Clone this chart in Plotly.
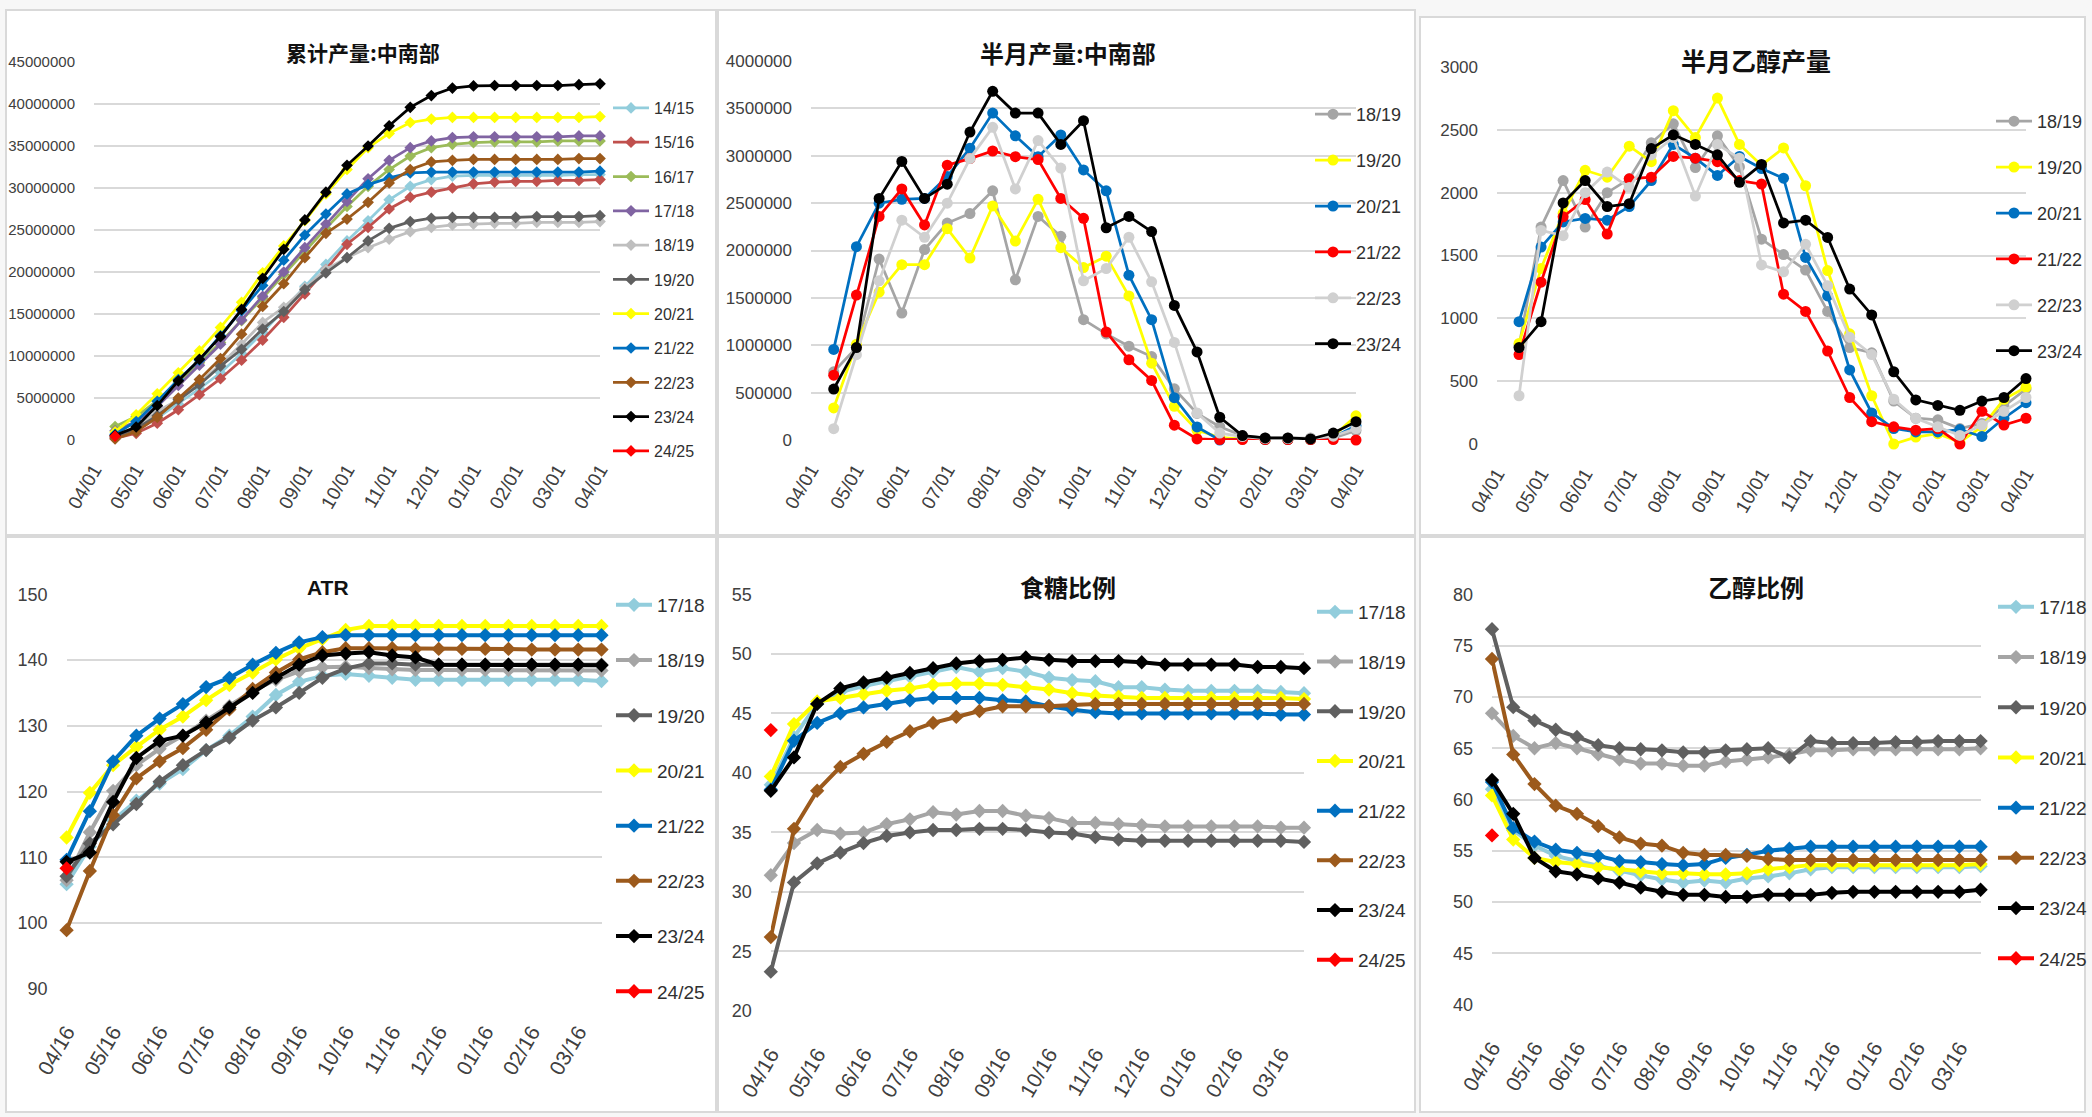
import plotly.graph_objects as go

W, H = 2092, 1117

# ---------------- categories / tick labels ----------------
half_months = ["04/16", "05/01", "05/16", "06/01", "06/16", "07/01", "07/16", "08/01",
               "08/16", "09/01", "09/16", "10/01", "10/16", "11/01", "11/16", "12/01",
               "12/16", "01/01", "01/16", "02/01", "02/16", "03/01", "03/16", "04/01"]
top_tick_labels = ["04/01", "05/01", "06/01", "07/01", "08/01", "09/01", "10/01",
                   "11/01", "12/01", "01/01", "02/01", "03/01", "04/01"]
bottom_tick_labels = ["04/16", "05/16", "06/16", "07/16", "08/16", "09/16",
                      "10/16", "11/16", "12/16", "01/16", "02/16", "03/16"]

# ---------------- 累计产量:中南部 (tons) ----------------
cum_1415 = [0.4e6, 1.2e6, 2.6e6, 4.3e6, 6.1e6, 8.0e6, 10.3e6, 12.8e6, 15.5e6, 18.3e6, 20.9e6, 23.7e6,
            26.1e6, 28.6e6, 30.2e6, 31.0e6, 31.4e6, 31.5e6, 31.5e6, 31.5e6, 31.5e6, 31.5e6, 31.6e6, 31.6e6]
cum_1516 = [0.2e6, 0.8e6, 2.0e6, 3.6e6, 5.4e6, 7.3e6, 9.5e6, 11.9e6, 14.6e6, 17.4e6, 20.3e6, 23.3e6,
            25.3e6, 27.5e6, 28.9e6, 29.5e6, 30.0e6, 30.5e6, 30.7e6, 30.8e6, 30.8e6, 30.9e6, 30.9e6, 31.0e6]
cum_1617 = [1.6e6, 2.8e6, 4.7e6, 6.9e6, 9.2e6, 11.6e6, 14.2e6, 16.9e6, 19.7e6, 22.5e6, 25.2e6, 27.8e6,
            30.2e6, 32.2e6, 33.8e6, 34.8e6, 35.2e6, 35.4e6, 35.5e6, 35.5e6, 35.5e6, 35.6e6, 35.6e6, 35.6e6]
cum_1718 = [1.1e6, 2.2e6, 4.0e6, 6.5e6, 8.9e6, 11.4e6, 14.3e6, 17.1e6, 20.0e6, 22.9e6, 25.7e6, 28.4e6,
            31.1e6, 33.3e6, 34.8e6, 35.6e6, 36.0e6, 36.1e6, 36.1e6, 36.1e6, 36.1e6, 36.1e6, 36.2e6, 36.2e6]
cum_1819 = [0.5e6, 1.5e6, 3.4e6, 4.8e6, 6.8e6, 9.0e6, 11.4e6, 14.0e6, 15.8e6, 18.1e6, 20.3e6, 21.7e6,
            22.9e6, 23.9e6, 24.8e6, 25.3e6, 25.6e6, 25.7e6, 25.8e6, 25.8e6, 25.9e6, 25.9e6, 25.9e6, 26.0e6]
cum_1920 = [0.34e6, 1.35e6, 2.9e6, 4.8e6, 6.6e6, 8.8e6, 10.8e6, 13.2e6, 15.3e6, 17.9e6, 19.9e6, 21.7e6,
            23.7e6, 25.2e6, 26.0e6, 26.4e6, 26.5e6, 26.5e6, 26.5e6, 26.5e6, 26.6e6, 26.6e6, 26.6e6, 26.7e6]
cum_2021 = [0.96e6, 3.0e6, 5.5e6, 8.0e6, 10.6e6, 13.4e6, 16.4e6, 19.9e6, 23.1e6, 26.1e6, 29.3e6, 32.2e6,
            34.8e6, 36.5e6, 37.8e6, 38.2e6, 38.4e6, 38.4e6, 38.4e6, 38.4e6, 38.4e6, 38.4e6, 38.4e6, 38.5e6]
cum_2122 = [0.68e6, 2.2e6, 4.6e6, 7.2e6, 9.5e6, 12.4e6, 15.4e6, 18.4e6, 21.4e6, 24.4e6, 26.9e6, 29.3e6,
            30.4e6, 31.2e6, 31.8e6, 31.9e6, 31.9e6, 31.9e6, 31.9e6, 31.9e6, 31.9e6, 31.9e6, 31.9e6, 32.0e6]
cum_2223 = [0.12e6, 1.0e6, 2.7e6, 5.0e6, 7.2e6, 9.7e6, 12.6e6, 15.9e6, 18.6e6, 21.7e6, 24.6e6, 26.3e6,
            28.3e6, 30.6e6, 32.2e6, 33.1e6, 33.3e6, 33.4e6, 33.4e6, 33.4e6, 33.4e6, 33.4e6, 33.5e6, 33.5e6]
cum_2324 = [0.55e6, 1.55e6, 4.1e6, 7.05e6, 9.6e6, 12.3e6, 15.55e6, 19.25e6, 22.7e6, 26.2e6, 29.5e6, 32.7e6,
            35.0e6, 37.4e6, 39.6e6, 41.0e6, 41.9e6, 42.15e6, 42.2e6, 42.2e6, 42.2e6, 42.2e6, 42.3e6, 42.4e6]
cum_2425 = [0.45e6]

# ---------------- 半月产量:中南部 (tons) ----------------
half_1819 = [720e3, 975e3, 1910e3, 1340e3, 2010e3, 2290e3, 2390e3, 2630e3, 1690e3, 2360e3, 2150e3, 1270e3,
             1120e3, 990e3, 880e3, 540e3, 280e3, 140e3, 47e3, 20e3, 20e3, 20e3, 20e3, 100e3]
half_1920 = [338e3, 1010e3, 1560e3, 1850e3, 1850e3, 2230e3, 1920e3, 2470e3, 2100e3, 2540e3, 2030e3, 1820e3,
             1940e3, 1520e3, 811e3, 356e3, 102e3, 29e3, 10e3, 5e3, 5e3, 5e3, 40e3, 255e3]
half_2021 = [956e3, 2040e3, 2500e3, 2540e3, 2550e3, 2780e3, 3080e3, 3450e3, 3210e3, 2990e3, 3220e3, 2850e3,
             2630e3, 1740e3, 1270e3, 447e3, 138e3, 0, 11e3, 5e3, 5e3, 5e3, 30e3, 150e3]
half_2122 = [684e3, 1530e3, 2360e3, 2650e3, 2270e3, 2900e3, 2970e3, 3050e3, 2990e3, 2960e3, 2550e3, 2340e3,
             1140e3, 847e3, 629e3, 156e3, 11e3, 5e3, 5e3, 5e3, 5e3, 5e3, 5e3, 0]
half_2223 = [120e3, 900e3, 1680e3, 2320e3, 2140e3, 2500e3, 2970e3, 3300e3, 2650e3, 3160e3, 2870e3, 1680e3,
             1810e3, 2140e3, 1670e3, 1030e3, 284e3, 73e3, 36e3, 15e3, 15e3, 15e3, 40e3, 120e3]
half_2324 = [538e3, 975e3, 2550e3, 2940e3, 2550e3, 2700e3, 3250e3, 3680e3, 3450e3, 3450e3, 3120e3, 3370e3,
             2240e3, 2360e3, 2200e3, 1420e3, 930e3, 240e3, 47e3, 22e3, 22e3, 11e3, 73e3, 193e3]

# ---------------- 半月乙醇产量 ----------------
eth_1819 = [780, 1726, 2096, 1726, 2000, 2110, 2397, 2548, 2200, 2452, 2205, 1630,
            1507, 1384, 1055, 767, 726, 342, 205, 192, 123, 164, 301, 438]
eth_1920 = [800, 1397, 1836, 2178, 2123, 2370, 2247, 2652, 2438, 2753, 2384, 2219,
            2356, 2055, 1380, 877, 384, 0, 55, 82, 14, 137, 356, 452]
eth_2021 = [973, 1567, 1767, 1795, 1781, 1890, 2096, 2384, 2274, 2137, 2288, 2192,
            2115, 1485, 1178, 589, 247, 123, 96, 96, 115, 60, 205, 329]
eth_2122 = [712, 1288, 1808, 1945, 1671, 2110, 2123, 2288, 2274, 2247, 2096, 2068,
            1192, 1055, 740, 370, 178, 137, 110, 123, 0, 260, 151, 205]
eth_2223 = [384, 1699, 1658, 2000, 2164, 2041, 2300, 2438, 1973, 2384, 2274, 1425,
            1370, 1589, 1260, 850, 712, 356, 205, 137, 68, 151, 260, 370]
eth_2324 = [767, 973, 1918, 2096, 1890, 1912, 2351, 2460, 2384, 2301, 2082, 2225,
            1759, 1781, 1644, 1233, 1027, 575, 351, 307, 268, 342, 370, 521]

# ---------------- ATR ----------------
atr_1718 = [105.9, 111.6, 115.6, 118.6, 121.2, 123.4, 126.3, 128.5, 131.4, 134.7, 136.7, 137.6,
            137.9, 137.6, 137.3, 137.0, 137.0, 137.0, 137.0, 137.0, 137.0, 137.0, 137.0, 136.8]
atr_1819 = [106.5, 113.8, 120.1, 124.0, 126.5, 128.5, 130.8, 133.0, 135.3, 137.0, 138.3, 138.9,
            139.0, 138.8, 138.6, 138.5, 138.5, 138.5, 138.5, 138.5, 138.5, 138.5, 138.5, 138.4]
atr_1920 = [107.1, 112.1, 115.0, 118.1, 121.5, 124.0, 126.3, 128.2, 130.8, 132.8, 135.0, 137.3,
            138.7, 139.5, 139.5, 139.3, 139.3, 139.3, 139.3, 139.3, 139.3, 139.3, 139.3, 139.3]
atr_2021 = [113.0, 119.8, 124.0, 126.8, 129.4, 131.4, 133.9, 136.2, 138.1, 140.1, 141.8, 143.2,
            144.6, 145.2, 145.2, 145.2, 145.2, 145.2, 145.2, 145.2, 145.2, 145.2, 145.2, 145.2]
atr_2122 = [109.6, 117.0, 124.6, 128.5, 131.1, 133.3, 135.9, 137.3, 139.3, 141.1, 142.7, 143.5,
            143.8, 143.8, 143.8, 143.8, 143.8, 143.8, 143.8, 143.8, 143.8, 143.8, 143.8, 143.8]
atr_2223 = [98.9, 107.9, 116.4, 122.0, 124.6, 126.6, 129.4, 132.5, 135.6, 138.1, 140.1, 141.2,
            141.8, 141.8, 141.8, 141.7, 141.7, 141.7, 141.7, 141.7, 141.6, 141.6, 141.6, 141.6]
atr_2324 = [109.3, 110.7, 118.4, 125.1, 127.7, 128.5, 130.5, 132.8, 135.0, 137.3, 139.3, 140.7,
            141.0, 141.2, 140.7, 140.4, 139.3, 139.3, 139.3, 139.3, 139.3, 139.3, 139.3, 139.2]
atr_2425 = [108.3]

# ---------------- 食糖比例 ----------------
sug_1718 = [39.0, 43.0, 45.8, 46.8, 47.3, 47.7, 48.1, 48.5, 48.9, 48.5, 48.8, 48.5,
            48.0, 47.8, 47.7, 47.2, 47.2, 47.0, 46.9, 46.9, 46.9, 46.9, 46.8, 46.7]
sug_1819 = [31.4, 34.1, 35.2, 34.9, 35.0, 35.7, 36.1, 36.7, 36.5, 36.8, 36.8, 36.4,
            36.2, 35.8, 35.8, 35.7, 35.6, 35.5, 35.5, 35.5, 35.5, 35.5, 35.4, 35.4]
sug_1920 = [23.3, 30.8, 32.4, 33.3, 34.1, 34.7, 35.0, 35.2, 35.2, 35.3, 35.3, 35.2,
            35.0, 34.9, 34.6, 34.4, 34.3, 34.3, 34.3, 34.3, 34.3, 34.3, 34.3, 34.2]
sug_2021 = [39.7, 44.1, 46.0, 46.3, 46.6, 46.9, 47.1, 47.4, 47.5, 47.5, 47.4, 47.2,
            47.0, 46.7, 46.5, 46.4, 46.3, 46.3, 46.3, 46.3, 46.3, 46.3, 46.3, 46.2]
sug_2122 = [38.6, 42.7, 44.2, 45.0, 45.5, 45.8, 46.1, 46.3, 46.3, 46.3, 46.1, 46.0,
            45.6, 45.3, 45.1, 45.0, 45.0, 45.0, 45.0, 45.0, 45.0, 45.0, 44.9, 44.9]
sug_2223 = [26.2, 35.3, 38.5, 40.5, 41.6, 42.6, 43.5, 44.2, 44.7, 45.2, 45.6, 45.6,
            45.6, 45.7, 45.8, 45.8, 45.8, 45.8, 45.8, 45.8, 45.8, 45.8, 45.8, 45.8]
sug_2324 = [38.5, 41.3, 45.8, 47.1, 47.6, 48.0, 48.4, 48.8, 49.2, 49.4, 49.5, 49.7,
            49.5, 49.4, 49.4, 49.4, 49.3, 49.1, 49.1, 49.1, 49.1, 48.9, 48.9, 48.8]
sug_2425 = [43.6]

# ---------------- 乙醇比例 ----------------
etr_1718 = [61.0, 57.0, 55.5, 54.5, 54.0, 53.5, 53.0, 52.6, 52.2, 51.9, 52.1, 51.9,
            52.3, 52.5, 52.8, 53.2, 53.4, 53.4, 53.4, 53.4, 53.4, 53.4, 53.4, 53.5]
etr_1819 = [68.4, 66.2, 65.0, 65.5, 65.0, 64.4, 63.9, 63.5, 63.5, 63.3, 63.3, 63.7,
            63.9, 64.1, 64.4, 64.8, 64.8, 64.9, 64.9, 64.9, 64.9, 64.9, 64.9, 65.0]
etr_1920 = [76.6, 69.0, 67.7, 66.8, 66.1, 65.3, 65.0, 64.9, 64.8, 64.6, 64.6, 64.8,
            64.9, 65.0, 64.1, 65.7, 65.5, 65.5, 65.5, 65.6, 65.6, 65.7, 65.7, 65.7]
etr_2021 = [60.4, 56.1, 54.3, 53.9, 53.7, 53.4, 53.2, 53.0, 52.8, 52.8, 52.7, 52.7,
            52.8, 53.2, 53.4, 53.6, 53.6, 53.6, 53.6, 53.6, 53.6, 53.6, 53.6, 53.7]
etr_2122 = [61.7, 57.2, 55.9, 55.1, 54.8, 54.5, 54.0, 53.9, 53.7, 53.6, 53.7, 54.3,
            54.6, 55.0, 55.2, 55.4, 55.4, 55.4, 55.4, 55.4, 55.4, 55.4, 55.4, 55.4]
etr_2223 = [73.7, 64.4, 61.5, 59.4, 58.6, 57.4, 56.3, 55.7, 55.5, 54.8, 54.6, 54.6,
            54.5, 54.2, 54.1, 54.1, 54.1, 54.1, 54.1, 54.1, 54.1, 54.1, 54.1, 54.1]
etr_2324 = [61.9, 58.6, 54.3, 53.0, 52.7, 52.3, 51.9, 51.4, 51.0, 50.7, 50.7, 50.5,
            50.5, 50.7, 50.7, 50.7, 50.9, 51.0, 51.0, 51.0, 51.0, 51.0, 51.0, 51.2]
etr_2425 = [56.5]

# ---------------- styling ----------------
C_LBLUE = "#92CDDC"
C_IRED = "#C0504D"
C_OLIVE = "#9BBB59"
C_PURPLE = "#8064A2"
C_LGRAY = "#BFBFBF"
C_MGRAY = "#A5A5A5"
C_DGRAY = "#606060"
C_YELLOW = "#FFFF00"
C_BLUE = "#0070C0"
C_BROWN = "#9C5A1C"
C_BLACK = "#000000"
C_RED = "#FF0000"
C_VLGRAY = "#D0D0D0"

SANS = "Liberation Sans, Arial, sans-serif"
CJK = "Noto Sans CJK SC, Noto Sans CJK JP, sans-serif"
TICK_COLOR = "#404040"
GRID = "#D9D9D9"

charts = [
    dict(title="累计产量:中南部", title_xy=(363, 52), title_size=21,
         box=(94, 600, 62, 440), yrange=(0, 45e6), dtick=5e6, ytick_size=15,
         top=True, symbol="diamond", msize=9, lw=2.75,
         legend_xy=(608, 91), legend_size=16, legend_gap=10.5,
         series=[("14/15", cum_1415, C_LBLUE), ("15/16", cum_1516, C_IRED), ("16/17", cum_1617, C_OLIVE),
                 ("17/18", cum_1718, C_PURPLE), ("18/19", cum_1819, C_LGRAY), ("19/20", cum_1920, C_DGRAY),
                 ("20/21", cum_2021, C_YELLOW), ("21/22", cum_2122, C_BLUE), ("22/23", cum_2223, C_BROWN),
                 ("23/24", cum_2324, C_BLACK), ("24/25", cum_2425, C_RED)]),
    dict(title="半月产量:中南部", title_xy=(1068, 52), title_size=24,
         box=(811, 1356, 61, 440), yrange=(0, 4e6), dtick=5e5, ytick_size=17,
         top=True, symbol="circle", msize=11, lw=2.75,
         legend_xy=(1310, 96), legend_size=18, legend_gap=19.5,
         series=[("18/19", half_1819, C_MGRAY), ("19/20", half_1920, C_YELLOW), ("20/21", half_2021, C_BLUE),
                 ("21/22", half_2122, C_RED), ("22/23", half_2223, C_VLGRAY), ("23/24", half_2324, C_BLACK)]),
    dict(title="半月乙醇产量", title_xy=(1756, 60), title_size=25,
         box=(1497, 2026, 67, 444), yrange=(0, 3000), dtick=500, ytick_size=17,
         top=True, symbol="circle", msize=11, lw=2.75,
         legend_xy=(1991, 103), legend_size=18, legend_gap=19.5,
         series=[("18/19", eth_1819, C_MGRAY), ("19/20", eth_1920, C_YELLOW), ("20/21", eth_2021, C_BLUE),
                 ("21/22", eth_2122, C_RED), ("22/23", eth_2223, C_VLGRAY), ("23/24", eth_2324, C_BLACK)]),
    dict(title="ATR", title_xy=(328, 587), title_size=21,
         box=(66.6, 601.5, 594.4, 988.6), yrange=(90, 150), dtick=10, ytick_size=18,
         top=False, symbol="diamond", msize=11, lw=4,
         legend_xy=(611, 586), legend_size=19, legend_gap=27.5,
         series=[("17/18", atr_1718, C_LBLUE), ("18/19", atr_1819, C_MGRAY), ("19/20", atr_1920, C_DGRAY),
                 ("20/21", atr_2021, C_YELLOW), ("21/22", atr_2122, C_BLUE), ("22/23", atr_2223, C_BROWN),
                 ("23/24", atr_2324, C_BLACK), ("24/25", atr_2425, C_RED)]),
    dict(title="食糖比例", title_xy=(1068, 586), title_size=24,
         box=(770.8, 1304, 594.4, 1010.9), yrange=(20, 55), dtick=5, ytick_size=18,
         top=False, symbol="diamond", msize=11, lw=4,
         legend_xy=(1312, 593), legend_size=19, legend_gap=22,
         series=[("17/18", sug_1718, C_LBLUE), ("18/19", sug_1819, C_MGRAY), ("19/20", sug_1920, C_DGRAY),
                 ("20/21", sug_2021, C_YELLOW), ("21/22", sug_2122, C_BLUE), ("22/23", sug_2223, C_BROWN),
                 ("23/24", sug_2324, C_BLACK), ("24/25", sug_2425, C_RED)]),
    dict(title="乙醇比例", title_xy=(1756, 586), title_size=24,
         box=(1492, 1980.6, 594.4, 1004.6), yrange=(40, 80), dtick=5, ytick_size=18,
         top=False, symbol="diamond", msize=11, lw=4,
         legend_xy=(1993, 588), legend_size=19, legend_gap=22.5,
         series=[("17/18", etr_1718, C_LBLUE), ("18/19", etr_1819, C_MGRAY), ("19/20", etr_1920, C_DGRAY),
                 ("20/21", etr_2021, C_YELLOW), ("21/22", etr_2122, C_BLUE), ("22/23", etr_2223, C_BROWN),
                 ("23/24", etr_2324, C_BLACK), ("24/25", etr_2425, C_RED)]),
]

# panel frames (pixel boxes x0, x1, y0, y1)
panels = [(6, 716, 10, 535), (718, 1415, 10, 535), (1420, 2085, 17, 535),
          (6, 716, 537, 1112), (718, 1415, 537, 1112), (1420, 2085, 537, 1112)]


def fx(p):
    return p / W


def fy(p):
    return 1 - p / H


fig = go.Figure()
layout = dict(
    width=W, height=H,
    margin=dict(l=0, r=0, t=0, b=0, autoexpand=False),
    paper_bgcolor="#F7F7F7",
    plot_bgcolor="rgba(0,0,0,0)",
    showlegend=True,
    shapes=[], annotations=[],
)

for (x0, x1, y0, y1) in panels:
    layout["shapes"].append(dict(type="rect", xref="paper", yref="paper",
                                 x0=fx(x0), x1=fx(x1), y0=fy(y1), y1=fy(y0),
                                 fillcolor="white", line=dict(color="#D9D9D9", width=2),
                                 layer="below"))

for k, ch in enumerate(charts, start=1):
    sfx = "" if k == 1 else str(k)
    xa, ya = "x" + sfx, "y" + sfx
    leg = "legend" + sfx
    bx0, bx1, byt, byb = ch["box"]
    if ch["top"]:
        offset = 1
        xr = [0, len(half_months)]
        tickvals = list(range(0, len(half_months) + 1, 2))
        ticktext = top_tick_labels
        standoff = 14
        xfont = 19
    else:
        offset = 0
        xr = [0, len(half_months) - 1]
        tickvals = list(range(0, len(half_months) - 1, 2))
        ticktext = bottom_tick_labels
        standoff = 26
        xfont = 21

    for j, (name, vals, color) in enumerate(ch["series"]):
        xs = [offset + i for i in range(len(vals))]
        fig.add_trace(go.Scatter(
            x=xs, y=vals, name=name, mode="lines+markers",
            line=dict(color=color, width=ch["lw"]),
            marker=dict(symbol=ch["symbol"], size=ch["msize"], color=color),
            xaxis=xa, yaxis=ya, legend=leg, legendgroup=f"{k}_{j}",
            cliponaxis=False,
            text=[half_months[i] for i in range(len(vals))],
            hovertemplate="%{text}: %{y}<extra>" + name + "</extra>",
        ))

    layout["xaxis" + sfx] = dict(
        domain=[fx(bx0), fx(bx1)], anchor=ya, range=xr,
        tickvals=tickvals, ticktext=ticktext, tickangle=-60,
        tickfont=dict(family=SANS, size=xfont, color=TICK_COLOR),
        showgrid=False, zeroline=False, showline=False, ticks="",
        ticklabelstandoff=standoff, fixedrange=True, automargin=False,
    )
    layout["yaxis" + sfx] = dict(
        domain=[fy(byb), fy(byt)], anchor=xa, range=list(ch["yrange"]),
        dtick=ch["dtick"], tick0=ch["yrange"][0], tickformat="d",
        tickfont=dict(family=SANS, size=ch["ytick_size"], color=TICK_COLOR),
        showgrid=True, gridcolor=GRID, gridwidth=1.5, zeroline=False, showline=False,
        ticks="", ticklabelstandoff=18, fixedrange=True, automargin=False,
    )
    lx, ly = ch["legend_xy"]
    layout[leg] = dict(
        x=fx(lx), y=fy(ly), xanchor="left", yanchor="top", xref="paper", yref="paper",
        bgcolor="rgba(0,0,0,0)", borderwidth=0, itemwidth=36,
        font=dict(family=SANS, size=ch["legend_size"], color="#303030"),
        tracegroupgap=ch["legend_gap"], traceorder="grouped",
    )
    tx, ty = ch["title_xy"]
    layout["annotations"].append(dict(
        text=ch["title"], x=fx(tx), y=fy(ty), xref="paper", yref="paper",
        xanchor="center", yanchor="middle", showarrow=False,
        font=dict(family=CJK if ch["title"] != "ATR" else SANS, size=ch["title_size"],
                  color="#111111", weight="bold"),
    ))

fig.update_layout(**layout)
fig.write_html("out.html", config={"displayModeBar": False},
               post_script="document.body.style.margin='0px';document.body.style.padding='0px';")
